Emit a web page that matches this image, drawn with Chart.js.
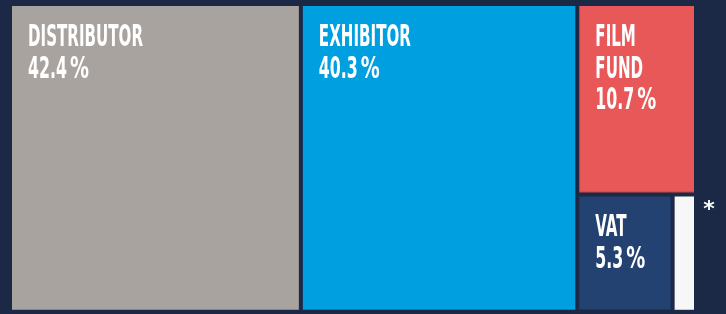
<!DOCTYPE html>
<html lang="en">
<head>
  <meta charset="UTF-8" />
  <title>Box office split</title>
  <script src="https://cdn.jsdelivr.net/npm/chart.js"></script>
  <style>
    html, body {
      margin: 0;
      padding: 0;
      background: #1b2946;
    }
    #wrap {
      width: 726px;
      height: 314px;
    }
  </style>
</head>
<body>
  <div id="wrap"><canvas id="treeChart"></canvas></div>

  <script>
    // shares of a cinema ticket (%)
    const labels = ['DISTRIBUTOR', 'EXHIBITOR', 'FILM FUND', 'VAT', '*'];
    const values = [42.4, 40.3, 10.7, 5.3, 1.3];
    const colors = ['#a8a39f', '#009fdf', '#e85859', '#234271', '#f7f7f7'];

    // nesting: columns, then the last column splits top/bottom, then left/right
    function layout(idx, x0, y0, x1, y1, horiz, out) {
      const total = idx.reduce((s, i) => s + values[i], 0);
      if (horiz && idx.length > 1) {
        const cols = idx.length > 3 ? [idx[0], idx[1], idx.slice(2)] : [idx[0], idx.slice(1)];
        let x = x0;
        cols.forEach(c => {
          const grp = Array.isArray(c) ? c : [c];
          const v = grp.reduce((s, i) => s + values[i], 0);
          const w = (x1 - x0) * v / total;
          if (grp.length === 1) out.push({ i: grp[0], x0: x, y0: y0, x1: x + w, y1: y1 });
          else layout(grp, x, y0, x + w, y1, false, out);
          x += w;
        });
      } else if (idx.length > 1) {
        const h = (y1 - y0) * values[idx[0]] / total;
        out.push({ i: idx[0], x0: x0, y0: y0, x1: x1, y1: y0 + h });
        layout(idx.slice(1), x0, y0 + h, x1, y1, true, out);
      } else {
        out.push({ i: idx[0], x0: x0, y0: y0, x1: x1, y1: y1 });
      }
      return out;
    }

    const FONT = 'bold 30px "DejaVu Sans Condensed", "DejaVu Sans", sans-serif';

    const treePlugin = {
      id: 'tree',
      afterDatasetsDraw(chart) {
        const ctx = chart.ctx;
        const sx = chart.scales.x, sy = chart.scales.y;
        const cells = layout(values.map((v, i) => i), 0, 100, 100, 0, true, []);
        const gap = 2;

        // squeeze glyphs to the tall narrow look of the original
        ctx.font = FONT;
        const nameScale = 115 / ctx.measureText('DISTRIBUTOR').width;
        const numScale = 39 / ctx.measureText('42.4').width;
        const pctScale = 19 / ctx.measureText('%').width;

        cells.forEach(c => {
          const left = sx.getPixelForValue(c.x0) + gap;
          const right = sx.getPixelForValue(c.x1) - gap;
          const top = sy.getPixelForValue(c.y0) + gap;
          const bottom = sy.getPixelForValue(c.y1) - gap;
          ctx.save();
          ctx.fillStyle = colors[c.i];
          ctx.fillRect(left, top, right - left, bottom - top);
          ctx.fillStyle = 'rgba(0,0,0,0.18)';
          ctx.fillRect(left, bottom - 1, right - left, 1);

          ctx.fillStyle = '#ffffff';
          ctx.textBaseline = 'alphabetic';
          if (labels[c.i] === '*') {
            ctx.font = 'bold 22px "DejaVu Sans"';
            ctx.textAlign = 'center';
            ctx.fillText('*', right + 15, top + 20);
          } else {
            ctx.font = FONT;
            // long names wrap word by word when the cell is narrow
            const words = labels[c.i].split(' ');
            const lines = (right - left) < 140 ? words : [labels[c.i]];
            lines.forEach((t, k) => {
              ctx.save();
              ctx.translate(left + 16, top + 40 + k * 31.5);
              ctx.scale(nameScale, 1);
              ctx.fillText(t, 0, 0);
              ctx.restore();
            });
            const base = top + 40 + lines.length * 31.5;
            const num = values[c.i].toFixed(1);
            ctx.save();
            ctx.translate(left + 16, base);
            ctx.scale(numScale, 1);
            ctx.fillText(num, 0, 0);
            const w = ctx.measureText(num).width * numScale;
            ctx.restore();
            ctx.save();
            ctx.translate(left + 16 + w + 3, base);
            ctx.scale(pctScale, 1);
            ctx.fillText('%', 0, 0);
            ctx.restore();
          }
          ctx.restore();
        });
      }
    };

    new Chart(document.getElementById('treeChart'), {
      type: 'scatter',
      data: { datasets: [{ data: [] }] },
      options: {
        responsive: true,
        maintainAspectRatio: false,
        animation: false,
        layout: { padding: { left: 10, right: 30, top: 4, bottom: 2 } },
        plugins: { legend: { display: false }, tooltip: { enabled: false } },
        scales: {
          x: { type: 'linear', min: 0, max: 100, display: false },
          y: { type: 'linear', min: 0, max: 100, display: false }
        }
      },
      plugins: [treePlugin]
    });
  </script>
</body>
</html>
